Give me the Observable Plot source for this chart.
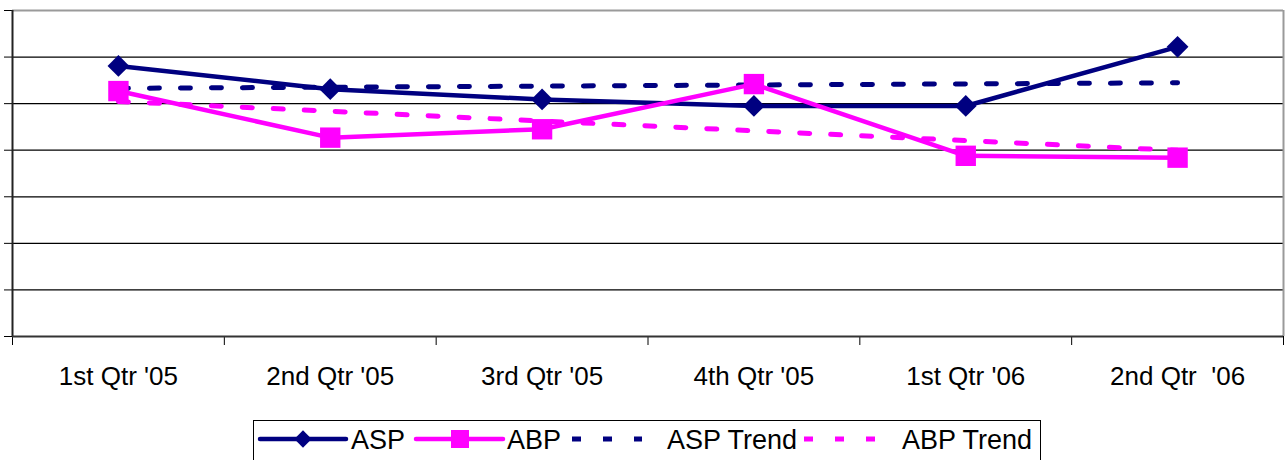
<!DOCTYPE html>
<html>
<head>
<meta charset="utf-8">
<script src="https://cdn.jsdelivr.net/npm/d3@7"></script>
<script src="https://cdn.jsdelivr.net/npm/@observablehq/plot@0.6"></script>
<style>
  html, body { margin: 0; padding: 0; background: #fff; }
  #chart { width: 1287px; height: 460px; overflow: hidden; position: relative; }
  svg { display: block; }
</style>
</head>
<body>
<div id="chart"></div>
<script>
// ---- data ----
const quarters = ["1st Qtr '05", "2nd Qtr '05", "3rd Qtr '05", "4th Qtr '05", "1st Qtr '06", "2nd Qtr  '06"];
const aspValues = [5.81, 5.31, 5.09, 4.95, 4.95, 6.22];
const abpValues = [5.27, 4.27, 4.45, 5.42, 3.88, 3.84];
const seriesNames = ["ASP", "ABP", "ASP Trend", "ABP Trend"];
const gridValues = [1, 2, 3, 4, 5, 6];

const navy = "#000080";
const magenta = "#FF00FF";
const font = "Liberation Sans, Arial, sans-serif";

const asp = quarters.map((q, i) => ({pos: i + 0.5, label: q, value: aspValues[i]}));
const abp = quarters.map((q, i) => ({pos: i + 0.5, label: q, value: abpValues[i]}));

const plot = Plot.plot({
  width: 1287,
  height: 410,
  marginLeft: 12,
  marginRight: 4,
  marginTop: 10,
  marginBottom: 74,
  style: {fontFamily: font, fontSize: "26px", color: "#000", background: "#fff", overflow: "visible"},
  x: {type: "linear", domain: [0, quarters.length]},
  y: {domain: [0, 7]},
  marks: [
    Plot.ruleY(gridValues, {stroke: "#000", strokeWidth: 1.2}),
    Plot.ruleY([7], {stroke: "#9a9a9a", strokeWidth: 2}),
    Plot.ruleX([quarters.length], {stroke: "#9a9a9a", strokeWidth: 2}),
    Plot.axisY({ticks: d3.range(0, 8), tickSize: 8, tickFormat: () => "", stroke: "#000", label: null}),
    Plot.axisX({ticks: d3.range(0, quarters.length + 1), tickSize: 9, tickFormat: () => "", stroke: "#000", label: null}),
    Plot.axisX({ticks: asp.map(d => d.pos), tickSize: 0, tickPadding: 30,
      tickFormat: d => quarters[Math.round(d - 0.5)], fill: "#000", label: null, fontSize: 26}),
    Plot.ruleX([0], {stroke: "#222", strokeWidth: 2}),
    Plot.ruleY([0], {stroke: "#333", strokeWidth: 2}),
    Plot.linearRegressionY(asp, {x: "pos", y: "value", ci: 0, stroke: navy, strokeWidth: 5, strokeDasharray: "10,21"}),
    Plot.linearRegressionY(abp, {x: "pos", y: "value", ci: 0, stroke: magenta, strokeWidth: 5, strokeDasharray: "10,21"}),
    Plot.line(asp, {x: "pos", y: "value", stroke: navy, strokeWidth: 4.5}),
    Plot.line(abp, {x: "pos", y: "value", stroke: magenta, strokeWidth: 4.5}),
    Plot.dot(asp, {x: "pos", y: "value", symbol: "diamond2", r: 9.8, fill: navy, stroke: "none"}),
    Plot.dot(abp, {x: "pos", y: "value", symbol: "square", r: 11.5, fill: magenta, stroke: "none"})
  ]
});
document.getElementById("chart").appendChild(plot);

// ---- legend (below the plot) ----
const lg = d3.select("#chart").append("svg")
  .attr("width", 1287).attr("height", 50)
  .style("font-family", font).style("font-size", "27px");
lg.append("rect").attr("x", 253.5).attr("y", 10.5).attr("width", 787).attr("height", 50)
  .attr("fill", "#fff").attr("stroke", "#000").attr("stroke-width", 1);

const ly = 29, ty = 39;
const items = [
  {name: seriesNames[0], color: navy, x1: 260, x2: 346, mark: "diamond", mx: 303, tx: 351},
  {name: seriesNames[1], color: magenta, x1: 416, x2: 503, mark: "square", mx: 460, tx: 507},
  {name: seriesNames[2], color: navy, x1: 572, x2: 642, dash: true, tx: 667},
  {name: seriesNames[3], color: magenta, x1: 804, x2: 875, dash: true, tx: 902}
];
items.forEach(it => {
  const line = lg.append("line").attr("x1", it.x1).attr("x2", it.x2).attr("y1", ly).attr("y2", ly)
    .attr("stroke", it.color);
  if (it.dash) {
    line.attr("stroke-width", 5).attr("stroke-dasharray", "9,22");
  } else {
    line.attr("stroke-width", 4.5).attr("stroke-linecap", "round");
  }
  if (it.mark === "diamond") {
    lg.append("path").attr("d", d3.symbol(d3.symbolDiamond2, 190)()).attr("transform", `translate(${it.mx},${ly})`)
      .attr("fill", it.color);
  } else if (it.mark === "square") {
    lg.append("rect").attr("x", it.mx - 9).attr("y", ly - 9).attr("width", 18).attr("height", 18).attr("fill", it.color);
  }
  lg.append("text").attr("x", it.tx).attr("y", ty).attr("fill", "#000").text(it.name);
});
</script>
</body>
</html>
